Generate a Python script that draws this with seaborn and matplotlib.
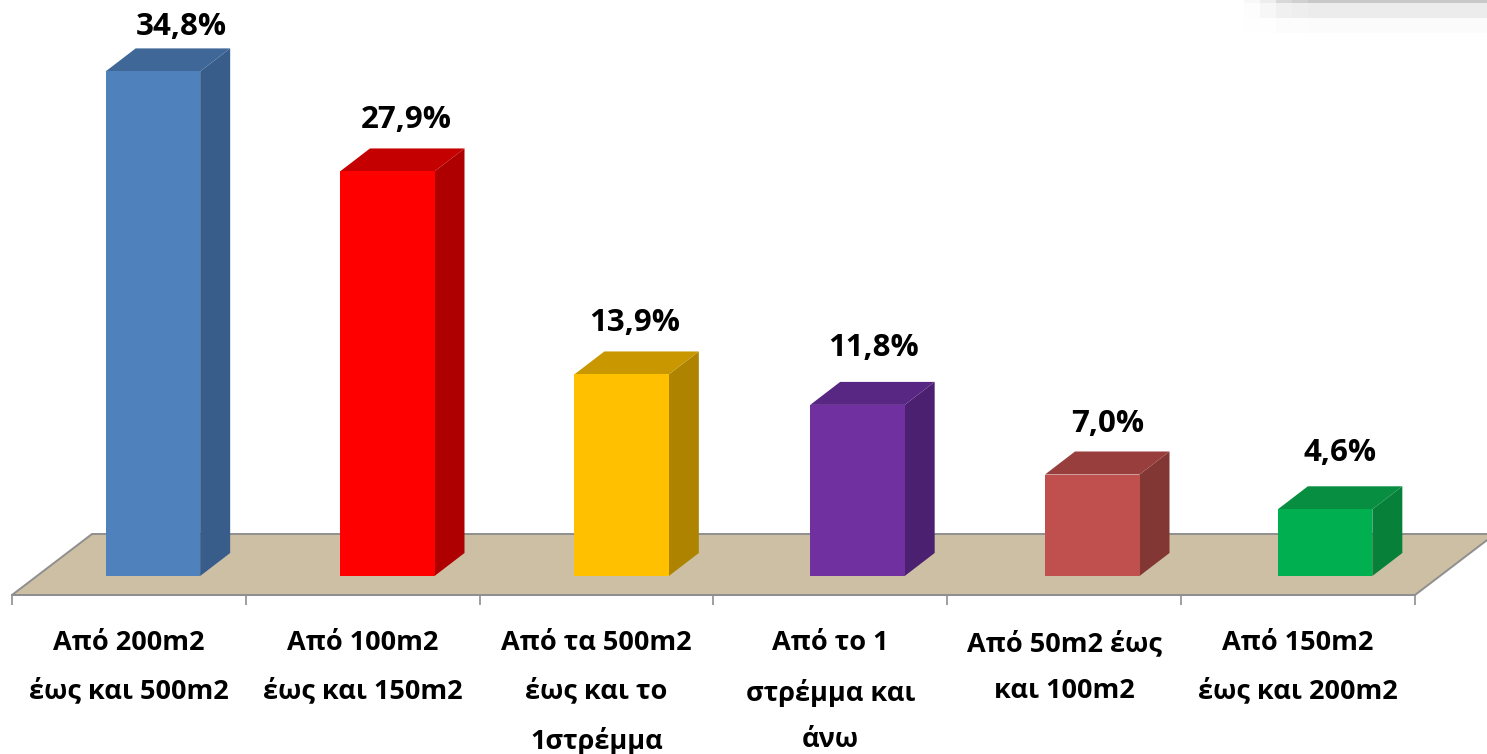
import matplotlib
matplotlib.use("Agg")
import matplotlib.pyplot as plt
import numpy as np
import pandas as pd
import seaborn as sns
from matplotlib.patches import Polygon

categories = ["Από 200m2\nέως και 500m2", "Από 100m2\nέως και 150m2",
              "Από τα 500m2\nέως και το\n1στρέμμα", "Από το 1\nστρέμμα και\nάνω",
              "Από 50m2 έως\nκαι 100m2", "Από 150m2\nέως και 200m2"]
values = [34.8, 27.9, 13.9, 11.8, 7.0, 4.6]
value_labels = ["34,8%", "27,9%", "13,9%", "11,8%", "7,0%", "4,6%"]

front_colors = ["#4F81BD", "#FF0000", "#FFC000", "#7030A0", "#C0504D", "#00B050"]
side_colors = ["#385D8A", "#AE0000", "#AE8300", "#4B2070", "#833735", "#07803A"]
top_colors = ["#3F6797", "#C40000", "#C99700", "#582683", "#983F3D", "#088E40"]

W, H = 1487, 754
LEFT, RIGHT, BASE = 12, 1415, 595
FLOOR_Y = 576
PX_X = (RIGHT - LEFT) / 6   # pixels per category
PX_Y = 14.5                 # pixels per percent

# small per-bar nudges, in pixels
bar_shift = [24, 24.5, 25, 27, 28, 27]
label_dx = [28, 19, 13, 16, 15, 15]
label_dy = [44, 51, 51, 57, 51, 56]

sns.set_theme(style="white")
plt.rcParams["font.family"] = ["Open Sans", "DejaVu Sans"]

fig = plt.figure(figsize=(W / 100, H / 100), dpi=100)
ax = fig.add_axes([LEFT / W, (H - BASE) / H, (RIGHT - LEFT) / W, BASE / H])
ax.patch.set_alpha(0)

df = pd.DataFrame({"cat": categories, "value": values})
sns.barplot(data=df, x="cat", y="value", hue="cat", palette=front_colors, hue_order=categories,
            order=categories, width=94.5 / PX_X, saturation=1, legend=False, ax=ax, zorder=4,
            linewidth=0)

ax.set_xlim(-0.5, 5.5)
ax.set_ylim(-(BASE - FLOOR_Y) / PX_Y, FLOOR_Y / PX_Y)

# floor
y0 = ax.get_ylim()[0]
fx, fy = 80 / PX_X, 61 / PX_Y
floor = Polygon([(-0.5, y0), (-0.5 + fx, y0 + fy), (5.5 + fx, y0 + fy), (5.5, y0)], closed=True,
                facecolor="#CDBFA3", edgecolor="#8F8F8F", lw=1.4, zorder=1, clip_on=False)
ax.add_patch(floor)

# 3d faces of every bar
dx, dy = 30 / PX_X, 23 / PX_Y
for i, bar in enumerate(ax.patches[:6]):
    bar.set_x(bar.get_x() + bar_shift[i] / PX_X)
    x0, w, h = bar.get_x(), bar.get_width(), bar.get_height()
    x1 = x0 + w
    ax.add_patch(Polygon([(x1, 0), (x1 + dx, dy), (x1 + dx, h + dy), (x1, h)], closed=True,
                         facecolor=side_colors[i], edgecolor="none", zorder=3, clip_on=False))
    ax.add_patch(Polygon([(x0, h), (x0 + dx, h + dy), (x1 + dx, h + dy), (x1, h)], closed=True,
                         facecolor=top_colors[i], edgecolor="none", zorder=3, clip_on=False))
    ax.annotate(value_labels[i], (x0 + w / 2, h), xytext=(label_dx[i], label_dy[i]),
                textcoords="offset pixels", ha="center", va="center",
                fontsize=22.5, fontweight="bold", color="black", annotation_clip=False)

for side in ["top", "left", "right"]:
    ax.spines[side].set_visible(False)
ax.spines["bottom"].set_color("#8F8F8F")
ax.spines["bottom"].set_linewidth(1.4)
ax.set_xlabel("")
ax.set_ylabel("")
ax.set_yticks([])
ax.set_xticks(range(6))
ax.set_xticklabels(categories, fontsize=19.5, fontweight="bold", color="black", linespacing=2.02)
ax.tick_params(axis="x", which="major", length=0, pad=25.5)
ax.set_xticks(np.arange(-0.5, 6), minor=True)
ax.tick_params(axis="x", which="minor", length=7.5, width=1.2, color="#8F8F8F", bottom=True)

# faded grey strip in the top right corner
strip = fig.add_axes([0, 0, 1, 1], zorder=-1)
strip.set_xlim(0, W)
strip.set_ylim(H, 0)
strip.axis("off")
strip_x = [1244, 1260, 1276, 1292, 1308, 1487]
strip_y = [0, 3, 18, 33]
strip_gray = [[0xF8, 0xEE, 0xD8, 0xD0, 0xC8],
              [0xFD, 0xF7, 0xF0, 0xEE, 0xEC],
              [0xFE, 0xFE, 0xFC, 0xFC, 0xFB]]
strip.pcolormesh(strip_x, strip_y, np.array(strip_gray) / 255, cmap="gray", vmin=0, vmax=1)

fig.savefig("out.png", dpi=100, facecolor="white")
